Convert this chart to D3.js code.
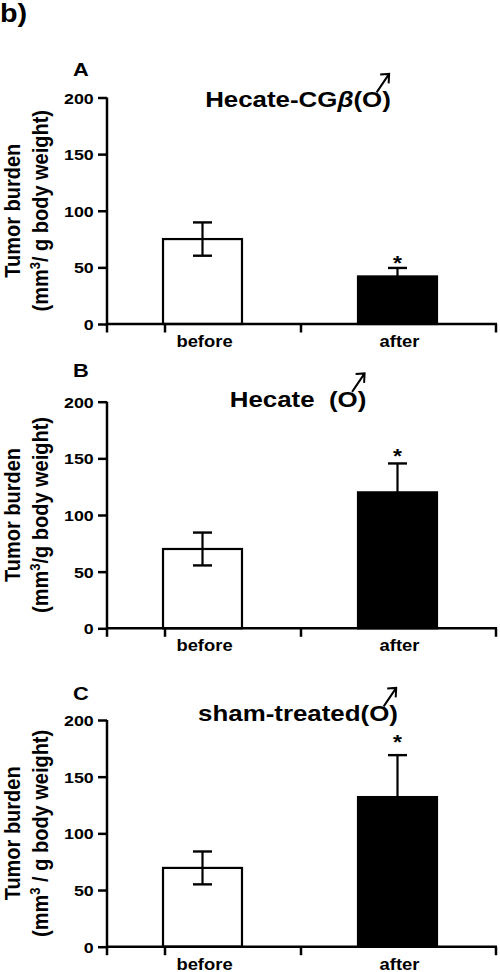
<!DOCTYPE html>
<html>
<head>
<meta charset="utf-8">
<script src="https://cdn.jsdelivr.net/npm/d3@7"></script>
<style>
  html, body { margin: 0; padding: 0; background: #fff; }
  svg { display: block; }
  text { font-family: Arial, "Liberation Sans", Helvetica, sans-serif; font-weight: bold; fill: #000; }
</style>
</head>
<body>
<div id="chart"></div>
<script>
// ---------------- data ----------------
const categories = ["before", "after"];
const yTickValues = [0, 50, 100, 150, 200];
const panelLetters = ["A", "B", "C"];
const titleTexts = ["Hecate-CG", "Hecate\u00a0\u00a0", "sham-treated"];
const titleGreek = ["\u03b2", "", ""];
const yLabelLine1 = ["Tumor burden", "Tumor burden", "Tumor burden"];
const yLabelLine2 = ["(mm", "(mm", "(mm"];
const yLabelLine2Rest = ["/ g body weight)", "/g body weight)", "\u00a0/ g body weight)"];
const meansA = [75, 42];
const errorsA = [14.7, 7.5];
const meansB = [70, 120];
const errorsB = [14.5, 25.5];
const meansC = [69.5, 132];
const errorsC = [14.5, 37];
const significant = [false, true];

const seriesMeans = [meansA, meansB, meansC];
const seriesErrors = [errorsA, errorsB, errorsC];

// ---------------- layout ----------------
const W = 500, H = 972;
const SX = 1.15; // horizontal stretch of the original typesetting
const layout = [
  { top: 97.5, bottom: 324,   titleY: 107,   letterY: 76,  starGap: 8.5 },
  { top: 401.7, bottom: 628.3, titleY: 406.5, letterY: 377, starGap: 11 },
  { top: 720,  bottom: 946.7, titleY: 721,   letterY: 700, starGap: 17 }
];
const axisX0 = 107, axisX1 = 497;

const svg = d3.select("#chart").append("svg")
  .attr("width", W).attr("height", H);

function stretchedText(g, x, y, str, size, anchor, rotate, sx) {
  const t = g.append("g")
    .attr("transform", `translate(${x},${y}) scale(${sx || SX},1)` + (rotate ? ` rotate(${rotate})` : ""))
    .append("text")
    .attr("font-size", size)
    .attr("text-anchor", anchor || "start")
    .text(str);
  return t;
}

// "b)" label
stretchedText(svg, 0, 22, "b)", 25, "start");

layout.forEach((L, pi) => {
  const g = svg.append("g");
  const means = seriesMeans[pi];
  const errs = seriesErrors[pi];

  const y = d3.scaleLinear().domain([0, 200]).range([L.bottom, L.top]);
  const x = d3.scaleBand().domain(categories).range([axisX0, axisX1]);
  const barW = x.bandwidth() * 0.405;
  const barCx = c => x(c) + x.bandwidth() / 2 - 2;

  // bars
  g.selectAll("rect.bar").data(categories).enter().append("rect")
    .attr("x", c => barCx(c) - barW / 2)
    .attr("y", (c, i) => y(means[i]))
    .attr("width", barW)
    .attr("height", (c, i) => y(0) - y(means[i]))
    .attr("fill", (c, i) => i === 0 ? "#fff" : "#000")
    .attr("stroke", "#000")
    .attr("stroke-width", 2.2);

  // error bars
  const capW = 19;
  categories.forEach((c, i) => {
    const cx = barCx(c);
    const hi = y(means[i] + errs[i]);
    const lo = i === 0 ? y(means[i] - errs[i]) : y(means[i]);
    g.append("line").attr("x1", cx).attr("x2", cx).attr("y1", hi).attr("y2", lo)
      .attr("stroke", "#000").attr("stroke-width", 2.2);
    g.append("line").attr("x1", cx - capW / 2).attr("x2", cx + capW / 2).attr("y1", hi).attr("y2", hi)
      .attr("stroke", "#000").attr("stroke-width", 2.4);
    if (i === 0) {
      g.append("line").attr("x1", cx - capW / 2).attr("x2", cx + capW / 2).attr("y1", lo).attr("y2", lo)
        .attr("stroke", "#000").attr("stroke-width", 2.4);
    }
    if (significant[i]) {
      stretchedText(g, cx, hi - L.starGap + 11, "*", 20, "middle");
    }
  });

  // y axis
  const yAxis = d3.axisLeft(y).tickValues(yTickValues).tickSize(9).tickSizeOuter(0).tickPadding(0);
  const ya = g.append("g").attr("transform", `translate(${axisX0},0)`).call(yAxis);
  ya.select(".domain").attr("stroke-width", 2.5).attr("d", `M0,${L.top}V${L.bottom}`);
  ya.selectAll(".tick line").attr("stroke-width", 2.5);
  ya.selectAll(".tick text")
    .attr("font-family", "Arial, 'Liberation Sans', sans-serif")
    .attr("font-size", 15.5).attr("font-weight", "bold")
    .attr("x", -11.5).attr("dy", "0.36em")
    .attr("transform", `scale(${SX},1)`);

  // x axis
  g.append("line").attr("x1", axisX0 - 1).attr("x2", axisX1).attr("y1", y(0)).attr("y2", y(0))
    .attr("stroke", "#000").attr("stroke-width", 2.5);
  const xTicks = [axisX0, barCx(categories[0]) - barW / 2 + 2, x(categories[1]) - 1, axisX1 - 1];
  g.selectAll("line.xt").data(xTicks).enter().append("line")
    .attr("x1", d => d).attr("x2", d => d)
    .attr("y1", y(0)).attr("y2", y(0) + 8.5)
    .attr("stroke", "#000").attr("stroke-width", 2.5);
  categories.forEach(c => {
    stretchedText(g, x(c) + x.bandwidth() / 2, y(0) + 23, c, 16, "middle");
  });

  // y label
  const ymid = (L.top + L.bottom) / 2;
  stretchedText(g, 19.5, ymid, yLabelLine1[pi], 20, "middle", -90, 1.08);
  const t2 = stretchedText(g, 48, ymid, "", 20, "middle", -90, 1.08);
  t2.append("tspan").text(yLabelLine2[pi]);
  t2.append("tspan").text("3").attr("font-size", 13).attr("dy", -7);
  t2.append("tspan").text(yLabelLine2Rest[pi]).attr("dy", 7);

  // panel letter
  stretchedText(g, 73, L.letterY, panelLetters[pi], 19, "start");

  // title
  const tg = g.append("g").attr("transform", `translate(298,${L.titleY}) scale(${SX},1)`);
  const tt = tg.append("text").attr("font-size", 22.5).attr("text-anchor", "middle")
    .attr("xml:space", "preserve");
  tt.append("tspan").text(titleTexts[pi]);
  if (titleGreek[pi]) tt.append("tspan").text(titleGreek[pi]).attr("font-style", "italic");
  tt.append("tspan").text("(");
  tt.append("tspan").text("O");
  tt.append("tspan").text(")");
  // male symbol arrow on the O
  const full = tt.text();
  const oIndex = full.lastIndexOf("O");
  const ext = tt.node().getExtentOfChar(oIndex);
  const ocx = 298 + (ext.x + ext.width / 2) * SX;
  const ocy = L.titleY - 0.36 * 22.5;
  const sx0 = ocx + 4.5, sy0 = ocy - 6.5;
  const tx = ocx + 17, ty = ocy - 25;
  g.append("path")
    .attr("d", `M${sx0},${sy0}L${tx},${ty}M${tx - 9},${ty + 0.5}L${tx},${ty}L${tx - 0.5},${ty + 9.5}`)
    .attr("fill", "none").attr("stroke", "#000").attr("stroke-width", 2)
    .attr("stroke-linejoin", "miter");
});
</script>
</body>
</html>
